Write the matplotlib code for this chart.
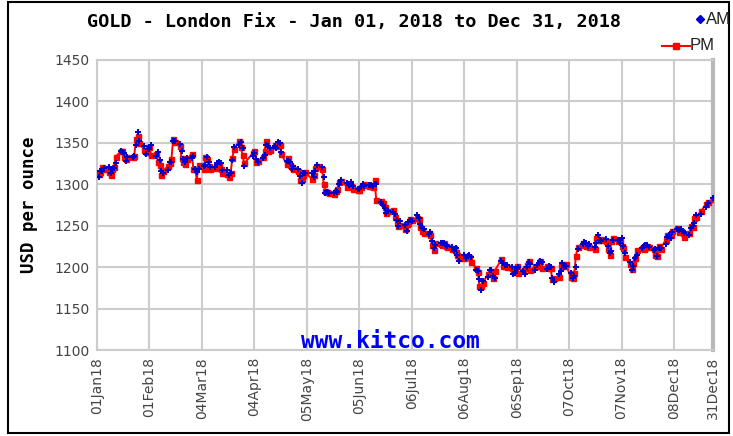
import matplotlib
matplotlib.use("Agg")
import matplotlib.pyplot as plt
import matplotlib.dates as mdates
from matplotlib.lines import Line2D
from matplotlib.patches import Rectangle
import datetime as dt

# ---------------- data ----------------
month_days = {
    1: [2,3,4,5,8,9,10,11,12,15,16,17,18,19,22,23,24,25,26,29,30,31],
    2: [1,2,5,6,7,8,9,12,13,14,15,16,19,20,21,22,23,26,27,28],
    3: [1,2,5,6,7,8,9,12,13,14,15,16,19,20,21,22,23,26,27,28,29],
    4: [3,4,5,6,9,10,11,12,13,16,17,18,19,20,23,24,25,26,27,30],
    5: [1,2,3,4,8,9,10,11,14,15,16,17,18,21,22,23,24,25,29,30,31],
    6: [1,4,5,6,7,8,11,12,13,14,15,18,19,20,21,22,25,26,27,28,29],
    7: [2,3,4,5,6,9,10,11,12,13,16,17,18,19,20,23,24,25,26,27,30,31],
    8: [1,2,3,6,7,8,9,10,13,14,15,16,17,20,21,22,23,24,28,29,30,31],
    9: [3,4,5,6,7,10,11,12,13,14,17,18,19,20,21,24,25,26,27,28],
    10: [1,2,3,4,5,8,9,10,11,12,15,16,17,18,19,22,23,24,25,26,29,30,31],
    11: [1,2,5,6,7,8,9,12,13,14,15,16,19,20,21,22,23,26,27,28,29,30],
    12: [3,4,5,6,7,10,11,12,13,14,17,18,19,20,21,24,27,28,31],
}

pm_prices = [
    1312.05,1314.45,1320.3,1318.55,1314.3,1310.95,1318.3,1321.4,1333.1,1339.65,1339.9,1332.75,1330.8,1333.45,1333.35,1334.2,1354.3,1358.5,1349.5,1341.6,1339.45,1344.9,
    1345.25,1335.35,1337.0,1327.1,1323.5,1311.35,1316.1,1322.0,1325.9,1330.75,1354.6,1350.5,1346.0,1331.2,1326.35,1324.7,1330.3,1336.65,1318.05,1317.85,
    1305.55,1323.4,1318.2,1333.4,1330.5,1322.3,1318.85,1319.3,1322.25,1323.5,1318.6,1314.15,1312.4,1308.75,1314.2,1331.9,1342.75,1352.05,1344.9,1334.75,1325.35,
    1337.25,1340.65,1326.85,1327.9,1332.55,1340.15,1352.1,1340.6,1341.3,1347.9,1346.25,1348.9,1347.4,1336.15,1324.1,1331.65,1322.75,1321.4,1318.0,1315.45,
    1305.6,1306.95,1311.2,1314.3,1306.55,1311.25,1320.1,1322.55,1318.4,1299.75,1291.85,1290.3,1289.4,1288.2,1291.55,1294.6,1302.75,1303.85,1297.1,1300.3,1298.5,
    1294.35,1293.45,1292.6,1297.1,1299.5,1300.2,1297.6,1298.0,1296.45,1305.65,1280.95,1279.3,1277.8,1272.3,1265.2,1268.15,1268.8,1260.1,1255.35,1249.25,1250.45,
    1246.5,1251.5,1253.45,1258.25,1256.85,1259.35,1257.7,1248.5,1243.95,1241.6,1241.05,1238.8,1227.3,1220.4,1229.55,1227.4,1226.85,1228.75,1225.75,1224.0,1221.45,1223.6,
    1217.8,1214.4,1211.0,1211.6,1213.4,1212.75,1211.85,1205.95,1199.35,1194.35,1177.25,1176.7,1181.3,1191.5,1194.8,1193.45,1186.75,1195.15,1209.8,1201.7,1201.3,1200.1,
    1198.55,1195.35,1193.9,1201.4,1193.0,1194.85,1198.4,1202.75,1207.1,1195.95,1201.9,1201.35,1201.7,1207.9,1198.95,1201.3,1199.15,1198.75,1185.5,1187.25,
    1188.6,1201.8,1203.5,1201.95,1204.05,1187.55,1186.9,1192.65,1213.35,1223.8,1229.0,1226.95,1225.75,1226.3,1224.6,1221.35,1235.3,1232.75,1232.5,1233.85,1231.3,1222.3,1214.95,
    1232.15,1235.3,1232.05,1232.35,1225.35,1223.15,1212.65,1203.3,1198.3,1205.5,1211.35,1220.85,1223.35,1222.15,1224.0,1225.2,1223.75,1222.0,1214.8,1213.0,1226.1,1222.5,
    1232.35,1238.9,1238.75,1238.25,1243.45,1247.55,1242.85,1243.75,1241.2,1236.4,1241.55,1249.9,1249.05,1259.65,1260.55,1267.65,1276.5,1279.0,1281.65,
]

am_prices = [
    1309.3,1316.6,1316.5,1320.2,1320.3,1313.25,1318.1,1319.4,1325.3,1340.1,1338.9,1337.6,1328.45,1333.0,1332.8,1333.55,1347.4,1362.6,1351.8,1345.8,1336.15,1342.65,
    1342.4,1347.6,1333.6,1339.3,1329.35,1316.55,1314.15,1317.15,1327.0,1326.35,1352.25,1351.8,1348.65,1339.6,1330.85,1326.95,1331.35,1332.15,1333.8,1318.6,
    1314.8,1317.85,1322.3,1323.15,1332.95,1326.5,1321.1,1321.35,1325.3,1326.85,1325.95,1316.9,1316.9,1311.45,1313.2,1329.05,1344.7,1347.85,1351.45,1343.2,1322.15,
    1334.05,1337.75,1331.1,1326.4,1332.3,1334.95,1347.25,1345.95,1343.2,1346.35,1343.6,1350.65,1349.45,1339.15,1328.25,1328.7,1326.55,1318.7,1321.85,1318.55,
    1310.45,1301.8,1313.2,1313.6,1313.85,1308.75,1316.6,1323.3,1320.45,1308.9,1290.0,1291.05,1290.05,1288.9,1292.3,1291.2,1300.7,1304.9,1301.55,1299.45,1302.65,
    1298.25,1294.15,1294.3,1297.3,1300.3,1298.4,1299.45,1299.25,1297.35,1300.5,1300.6,1278.3,1274.9,1271.35,1265.5,1267.9,1266.2,1264.35,1256.4,1250.1,1255.9,
    1250.45,1243.6,1254.7,1257.25,1256.0,1262.35,1259.8,1252.55,1246.95,1245.6,1240.35,1241.9,1232.0,1223.4,1226.15,1228.8,1228.85,1228.9,1227.2,1225.75,1224.15,1219.3,
    1223.0,1214.7,1207.35,1214.45,1210.75,1213.35,1214.3,1211.95,1196.65,1195.5,1185.5,1172.5,1183.15,1187.6,1197.15,1197.05,1189.9,1186.4,1207.6,1205.4,1202.75,1202.4,
    1200.15,1192.0,1192.95,1197.75,1199.75,1195.75,1192.3,1200.55,1205.65,1204.3,1196.2,1202.75,1204.4,1206.85,1206.0,1198.05,1201.9,1199.65,1186.65,1181.75,
    1191.5,1195.65,1205.05,1200.2,1201.85,1192.5,1187.3,1189.6,1200.05,1221.65,1227.45,1230.4,1228.7,1225.3,1227.85,1224.0,1228.8,1238.65,1232.85,1231.75,1233.65,1226.1,1217.45,
    1219.1,1232.25,1233.0,1228.6,1235.25,1225.2,1216.65,1206.5,1196.4,1201.9,1211.2,1214.65,1223.4,1225.25,1226.7,1226.75,1224.3,1220.2,1221.7,1213.9,1223.55,1223.1,
    1228.25,1236.5,1239.3,1235.2,1242.25,1246.1,1244.45,1246.5,1244.05,1240.95,1238.95,1247.8,1250.0,1253.2,1262.55,1263.7,1272.15,1277.6,1283.55,
]

tick_dates = ["2018-01-01","2018-02-01","2018-03-04","2018-04-04","2018-05-05","2018-06-05",
              "2018-07-06","2018-08-06","2018-09-06","2018-10-07","2018-11-07","2018-12-08","2018-12-31"]
tick_labels = ["01Jan18","01Feb18","04Mar18","04Apr18","05May18","05Jun18",
               "06Jul18","06Aug18","06Sep18","07Oct18","07Nov18","08Dec18","31Dec18"]
y_ticks = [1100,1150,1200,1250,1300,1350,1400,1450]

title = "GOLD - London Fix - Jan 01, 2018 to Dec 31, 2018"
y_label = "USD per ounce"
watermark = "www.kitco.com"

# ---------------- build ----------------
dates = [dt.date(2018, m, d) for m in sorted(month_days) for d in month_days[m]]
tdates = [dt.datetime.strptime(s, "%Y-%m-%d").date() for s in tick_dates]

W, H = 733, 436
fig = plt.figure(figsize=(W/100, H/100), dpi=100)
fig.patch.set_facecolor("white")
ax = fig.add_axes([97/W, 1-350/H, (713-97)/W, (350-60)/H])

grid_c = "#cccccc"
ax.plot(dates, pm_prices, color="#ff0000", lw=1.4, marker="s", ms=3.6,
        mec="#ff0000", mfc="#ff0000", zorder=3)
ax.plot(dates, am_prices, ls="none", color="#0000cc", marker="+", ms=4.8,
        mew=1.4, zorder=4)

ax.set_xlim(dt.date(2018, 1, 1), dt.date(2018, 12, 31))
ax.set_ylim(1100, 1450)
ax.set_yticks(y_ticks)
ax.set_yticklabels([str(v) for v in y_ticks], fontsize=10, color="#444444",
                   family="DejaVu Sans")
ax.set_xticks([mdates.date2num(d) for d in tdates])
ax.set_xticklabels(tick_labels, rotation=90, fontsize=10, color="#444444",
                   family="DejaVu Sans")
ax.tick_params(axis="both", length=0, pad=5)
ax.grid(True, color=grid_c, lw=1.5)
ax.set_axisbelow(True)
for side in ["left", "bottom", "top"]:
    ax.spines[side].set_color(grid_c)
    ax.spines[side].set_linewidth(1.5)
ax.spines["right"].set_color("#b8b8b8")
ax.spines["right"].set_linewidth(3)

ax.set_ylabel(y_label, family="DejaVu Sans Mono", fontweight="bold",
              fontsize=12.5, labelpad=12, color="black")

fig.text(354/W, 1-22/H, title, family="DejaVu Sans Mono", fontweight="bold",
         fontsize=13.3, ha="center", va="center", color="black")
fig.text(390/W, 1-341/H, watermark, family="DejaVu Sans Mono", fontweight="bold",
         fontsize=16.5, ha="center", va="center", color="#0000ff", zorder=5)

# legend (manual)
fig.add_artist(Line2D([700/W], [1-19/H], marker="D", ms=4, color="#0000cc",
                      ls="none", transform=fig.transFigure))
fig.text(706/W, 1-19/H, "AM", family="Liberation Sans", fontsize=12,
         ha="left", va="center", color="#222222")
fig.add_artist(Line2D([662/W, 690/W], [1-46/H, 1-46/H], color="#ff0000", lw=1.5,
                      transform=fig.transFigure))
fig.add_artist(Line2D([676/W], [1-46/H], marker="s", ms=5, color="#ff0000",
                      ls="none", transform=fig.transFigure))
fig.text(690/W, 1-46/H, "PM", family="Liberation Sans", fontsize=12,
         ha="left", va="center", color="#222222")

# outer frame
fig.add_artist(Rectangle((8/W, 3/H), (729-8)/W, (434-3)/H, fill=False,
                         ec="black", lw=1.5, transform=fig.transFigure))

fig.savefig("out.png", dpi=100, facecolor="white")
